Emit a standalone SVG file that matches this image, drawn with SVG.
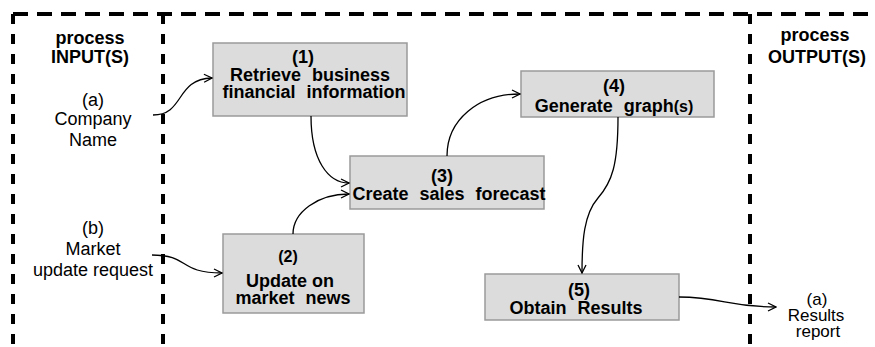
<svg xmlns="http://www.w3.org/2000/svg" width="875" height="347" viewBox="0 0 875 347">
<style>
.bg{fill:#ffffff}
.dh{stroke:#000;stroke-width:4;stroke-dasharray:15 9;fill:none}
.dv{stroke:#000;stroke-width:4;stroke-dasharray:10 10;fill:none}
.box{fill:#dcdcdc;stroke:#9a9a9a;stroke-width:1.5}
.t{font-family:"Liberation Sans",Arial,sans-serif;font-size:18px;fill:#000;text-anchor:middle}
.b{font-weight:bold}
.ws{word-spacing:6px}
.sm{font-size:16px}
.r{font-size:17px}
.c{fill:none;stroke:#000;stroke-width:1.3;marker-end:url(#ah)}
</style>
<defs>
<marker id="ah" markerWidth="10" markerHeight="10" refX="9" refY="5" orient="auto" markerUnits="userSpaceOnUse">
<path d="M1,1 L9,5 L1,9" fill="none" stroke="#000" stroke-width="1.3"/>
</marker>
</defs>
<rect class="bg" x="0" y="0" width="875" height="347"/>
<g id="frame">
<line class="dh" x1="13" y1="14" x2="875" y2="14"/>
<line class="dv" x1="13" y1="14" x2="13" y2="347"/>
<line class="dv" x1="163" y1="14" x2="163" y2="347"/>
<line class="dv" x1="750" y1="14" x2="750" y2="347"/>
</g>
<g id="input-header">
<text class="t b" x="90" y="44">process</text>
<text class="t b" x="90" y="63">INPUT(S)</text>
</g>
<g id="input-a">
<text class="t" x="93" y="106">(a)</text>
<text class="t" x="93" y="125">Company</text>
<text class="t" x="93" y="146">Name</text>
</g>
<g id="input-b">
<text class="t" x="93" y="234">(b)</text>
<text class="t" x="93" y="255">Market</text>
<text class="t" x="93" y="276">update request</text>
</g>
<g id="output-header">
<text class="t b" x="815" y="41">process</text>
<text class="t b" x="817" y="63">OUTPUT(S)</text>
</g>
<g id="output-a">
<text class="t r" x="817" y="305">(a)</text>
<text class="t r" x="816" y="321">Results</text>
<text class="t r" x="818" y="337">report</text>
</g>
<g id="node1">
<rect class="box" x="213" y="43" width="194" height="73"/>
<text class="t b" x="303" y="63">(1)</text>
<text class="t b ws" x="310" y="81">Retrieve business</text>
<text class="t b ws" x="314" y="98">financial information</text>
</g>
<g id="node2">
<rect class="box" x="223" y="234" width="141" height="79"/>
<text class="t b sm" x="288" y="262">(2)</text>
<text class="t b" x="290" y="287">Update on</text>
<text class="t b ws" x="293" y="304">market news</text>
</g>
<g id="node3">
<rect class="box" x="350" y="156" width="194" height="53"/>
<text class="t b" x="442" y="182">(3)</text>
<text class="t b ws" x="449" y="200">Create sales forecast</text>
</g>
<g id="node4">
<rect class="box" x="521" y="71" width="193" height="46"/>
<text class="t b" x="614" y="92">(4)</text>
<text class="t b ws" x="614" y="112">Generate graph<tspan class="sm">(s)</tspan></text>
</g>
<g id="node5">
<rect class="box" x="485" y="274" width="194" height="46"/>
<text class="t b" x="579" y="296">(5)</text>
<text class="t b ws" x="576" y="314">Obtain Results</text>
</g>
<g id="connectors">
<path class="c" d="M153,115 C185,115 175,79 212,78"/>
<path class="c" d="M152,255 C190,255 178,273 222,273"/>
<path class="c" d="M311,116 C311,160 328,183 349,183"/>
<path class="c" d="M293,234 C293,212 318,194 349,194"/>
<path class="c" d="M447,156 C447,120 478,94 520,94"/>
<path class="c" d="M618,117 C618,165 612,182 598,198 C584,214 582,240 582,273"/>
<path class="c" d="M679,297 C722,297 728,307 776,307"/>
</g>
</svg>
